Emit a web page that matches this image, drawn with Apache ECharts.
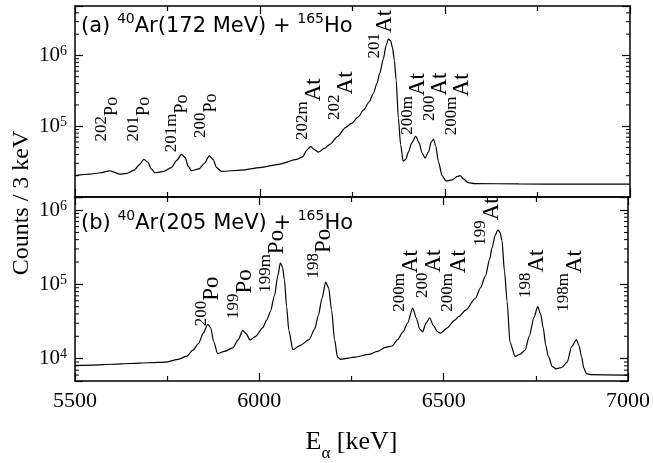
<!DOCTYPE html>
<html>
<head>
<meta charset="utf-8">
<script src="https://cdn.jsdelivr.net/npm/echarts@6/dist/echarts.min.js"></script>
<style>
  html, body { margin: 0; padding: 0; background: #fff; }
  #chart { width: 653px; height: 463px; }
</style>
</head>
<body>
<div id="chart"></div>
<script>
// spectrum (a): 40Ar(172 MeV) + 165Ho
const energyA = [5500, 5540, 5570, 5585, 5595, 5605, 5620, 5640, 5660, 5675, 5686, 5697, 5706, 5716,
  5740, 5760, 5775, 5788, 5798, 5806, 5815, 5835, 5850, 5863, 5873, 5883, 5896, 5950, 6000, 6050,
  6100, 6115, 6127, 6137, 6146, 6158, 6175, 6190, 6210, 6230, 6248, 6265, 6280, 6295, 6306, 6316,
  6324, 6333, 6341, 6347, 6353, 6358, 6363, 6368, 6374, 6380, 6387, 6394, 6401, 6410, 6421, 6430,
  6438, 6446, 6455, 6463, 6469, 6475, 6482, 6492, 6503, 6520, 6533, 6541, 6550, 6562, 6580, 6700,
  6850, 7000]
const countsA = [2.0e4, 2.1e4, 2.2e4, 2.3e4, 2.35e4, 2.25e4, 2.1e4, 2.15e4, 2.4e4, 2.9e4, 3.4e4, 3.1e4, 2.5e4, 2.2e4,
  2.3e4, 2.6e4, 3.3e4, 4.0e4, 3.6e4, 2.7e4, 2.35e4, 2.5e4, 3.0e4, 3.8e4, 3.4e4, 2.6e4, 2.3e4, 2.4e4, 2.6e4, 2.9e4,
  3.4e4, 3.7e4, 4.6e4, 5.2e4, 4.7e4, 4.3e4, 4.9e4, 5.6e4, 7.2e4, 9.5e4, 1.1e5, 1.35e5, 1.7e5, 2.2e5, 2.9e5, 4.0e5,
  5.7e5, 8.8e5, 1.4e6, 1.7e6, 1.62e6, 1.3e6, 8.5e5, 4.5e5, 1.3e5, 5.5e4, 3.2e4, 3.4e4, 4.3e4, 5.8e4, 7.2e4, 5.8e4,
  4.2e4, 3.55e4, 4.3e4, 6.0e4, 6.6e4, 5.2e4, 3.2e4, 2.0e4, 1.68e4, 1.75e4, 1.95e4, 2.0e4, 1.8e4, 1.6e4, 1.55e4, 1.53e4,
  1.52e4, 1.52e4]

// spectrum (b): 40Ar(205 MeV) + 165Ho
const energyB = [5500, 5550, 5600, 5650, 5700, 5748, 5780, 5802, 5820, 5835, 5848, 5860, 5868, 5876, 5887,
  5905, 5928, 5943, 5955, 5963, 5975, 5990, 6009, 6020, 6030, 6041, 6050, 6057, 6063, 6068, 6074,
  6080, 6091, 6110, 6135, 6150, 6160, 6170, 6180, 6188, 6196, 6204, 6212, 6221, 6260, 6297, 6320,
  6342, 6360, 6375, 6390, 6402, 6416, 6426, 6435, 6443, 6452, 6462, 6472, 6483, 6491, 6510, 6530,
  6541, 6560, 6586, 6600, 6613, 6625, 6631, 6640, 6647, 6653, 6658, 6665, 6672, 6680, 6694, 6708,
  6721, 6732, 6745, 6755, 6763, 6770, 6777, 6784, 6795, 6805, 6820, 6835, 6847, 6860, 6867, 6874,
  6880, 6887, 6900, 7000]
const countsB = [8.1e3, 8.2e3, 8.4e3, 8.6e3, 8.8e3, 9.0e3, 9.8e3, 1.07e4, 1.3e4, 1.6e4, 2.2e4, 2.9e4, 2.6e4, 1.7e4, 1.17e4,
  1.25e4, 1.4e4, 1.8e4, 2.4e4, 2.2e4, 1.78e4, 2.0e4, 2.6e4, 3.3e4, 4.3e4, 7.0e4, 1.3e5, 1.95e5, 1.7e5, 1.15e5, 5.0e4,
  2.4e4, 1.32e4, 1.5e4, 1.8e4, 2.5e4, 3.8e4, 6.5e4, 1.07e5, 9.0e4, 4.5e4, 1.8e4, 1.05e4, 9.8e3, 1.05e4, 1.14e4, 1.25e4,
  1.42e4, 1.48e4, 1.8e4, 2.3e4, 3.0e4, 4.8e4, 3.5e4, 2.5e4, 2.3e4, 3.0e4, 3.55e4, 2.8e4, 2.3e4, 2.2e4, 2.6e4, 3.3e4,
  3.7e4, 4.5e4, 6.5e4, 9.0e4, 1.29e5, 2.2e5, 3.1e5, 4.6e5, 5.4e5, 5.0e5, 3.9e5, 1.5e5, 5.9e4, 1.65e4, 1.07e4, 1.15e4,
  1.3e4, 2.0e4, 3.6e4, 5.0e4, 4.0e4, 2.6e4, 1.5e4, 1.07e4, 7.8e3, 7.3e3, 7.6e3, 9.0e3, 1.45e4, 1.8e4, 1.5e4, 1.07e4,
  7.5e3, 6.3e3, 6.1e3, 6.0e3]

// peak labels (energy = where the element symbol sits)
const peakMassA = ['202', '201', '201m', '200', '202m', '202', '201', '200m', '200', '200m']
const peakElemA = ['Po', 'Po', 'Po', 'Po', 'At', 'At', 'At', 'At', 'At', 'At']
const peakEnergyA = [5601, 5687, 5791, 5868, 6145, 6231, 6338, 6428, 6487, 6547]
const peakLabelCountsA = [1.26e5, 1.26e5, 1.1e5, 1.41e5, 1.74e5, 2.7e5, 2.0e6, 2.07e5, 2.6e5, 2.04e5]

const peakMassB = ['200', '199', '199m', '198', '200m', '200', '200m', '199', '198', '198m']
const peakElemB = ['Po', 'Po', 'Po', 'Po', 'At', 'At', 'At', 'At', 'At', 'At']
const peakEnergyB = [5872, 5960, 6047, 6176, 6410, 6473, 6541, 6631, 6753, 6856]
const peakLabelCountsB = [5.9e4, 7.4e4, 2.04e5, 2.6e5, 1.11e5, 1.39e5, 1.11e5, 7.0e5, 1.39e5, 1.11e5]

// axis ranges
const xMin = 5500
const xMax = 7000
const xTicks = ['5500', '6000', '6500', '7000']
const yRangeA = [1e4, 5e6]
const yRangeB = [5e3, 1.5e6]

const SERIF = "'Liberation Serif', 'DejaVu Serif', serif"
const SANS = "'DejaVu Sans', 'Liberation Sans', sans-serif"

const chart = echarts.init(document.getElementById('chart'), null, { renderer: 'canvas' })

// log minor ticks (2..9 x 10^n) drawn inside both y edges
const minorTickValues = (range) => {
  const out = []
  for (let n = Math.floor(Math.log10(range[0])); n <= Math.ceil(Math.log10(range[1])); n++) {
    for (let k = 2; k <= 9; k++) {
      const v = k * Math.pow(10, n)
      if (v > range[0] && v < range[1]) out.push([xMin, v])
    }
  }
  return out
}

const minorTickSeries = (idx, range) => ({
  type: 'custom',
  xAxisIndex: idx * 2,
  yAxisIndex: idx * 2,
  silent: true,
  animation: false,
  z: 5,
  data: minorTickValues(range),
  renderItem: (params, api) => {
    const v = api.value(1)
    const l = api.coord([xMin, v])
    const r = api.coord([xMax, v])
    const style = { stroke: '#000', lineWidth: 1 }
    return {
      type: 'group',
      children: [
        { type: 'line', shape: { x1: l[0], y1: l[1], x2: l[0] + 4, y2: l[1] }, style },
        { type: 'line', shape: { x1: r[0] - 4, y1: r[1], x2: r[0], y2: r[1] }, style }
      ]
    }
  }
})

const xAxisCfg = (gridIndex, position, showLabels) => ({
  type: 'value',
  gridIndex,
  position,
  min: xMin,
  max: xMax,
  interval: 500,
  axisLine: { show: true, onZero: false, lineStyle: { color: '#000', width: 1.5 } },
  axisTick: { show: true, inside: true, length: 8, lineStyle: { color: '#000', width: 1.2 } },
  minorTick: { show: true, splitNumber: 2, length: 5, lineStyle: { color: '#000', width: 1.2 } },
  splitLine: { show: false },
  axisLabel: {
    show: showLabels,
    margin: 9,
    color: '#000',
    fontFamily: SERIF,
    fontSize: 22,
    formatter: (v) => (xTicks.includes(String(v)) ? String(v) : '')
  }
})

const yAxisCfg = (gridIndex, range, position, showLabels, hideExp) => ({
  type: 'log',
  logBase: 10,
  gridIndex,
  position,
  min: range[0],
  max: range[1],
  axisLine: { show: true, lineStyle: { color: '#000', width: 1.5 } },
  axisTick: { show: true, inside: true, length: 8, lineStyle: { color: '#000', width: 1.2 } },
  splitLine: { show: false },
  axisLabel: {
    show: showLabels,
    margin: 8,
    formatter: (v) => {
      const p = Math.log10(v)
      const e = Math.round(p)
      if (Math.abs(p - e) > 1e-6 || e === hideExp) return ''
      return '{b|10}{s|' + e + '}'
    },
    rich: {
      b: { fontFamily: SERIF, fontSize: 21, color: '#000', lineHeight: 22 },
      s: { fontFamily: SERIF, fontSize: 14, color: '#000', verticalAlign: 'top', lineHeight: 14 }
    }
  }
})

// mass number raised as a superscript: its box sits at the top of a tall line
const labelRich = {
  m: { fontFamily: SERIF, fontSize: 17, color: '#000', verticalAlign: 'top', lineHeight: 17 },
  e: { fontFamily: SERIF, fontSize: 23, color: '#000', verticalAlign: 'middle', lineHeight: 39 },
  es: { fontFamily: SERIF, fontSize: 18, color: '#000', verticalAlign: 'middle', lineHeight: 39 }
}

const peakMarks = (mass, elem, energy, counts, smallPo) => ({
  symbol: 'circle',
  symbolSize: 1,
  itemStyle: { color: 'rgba(0,0,0,0)' },
  silent: true,
  animation: false,
  label: {
    show: true,
    position: 'inside',
    rotate: 90,
    rich: labelRich
  },
  data: energy.map((e, i) => {
    const elStyle = smallPo && elem[i] === 'Po' ? 'es' : 'e'
    const text = '{m|' + mass[i] + '}{' + elStyle + '|' + elem[i] + '}'
    return { coord: [e, counts[i]], label: { formatter: () => text } }
  })
})

const titleRich = {
  n: { fontFamily: SANS, fontSize: 21, fontWeight: 'normal', color: '#000', lineHeight: 25, verticalAlign: 'bottom' },
  s: { fontFamily: SANS, fontSize: 14, fontWeight: 'normal', color: '#000', lineHeight: 14, verticalAlign: 'top' }
}

const option = {
  backgroundColor: '#fff',
  animation: false,
  title: [
    { left: 81, top: 12, padding: 0, text: '{n|(a) }{s|40}{n|Ar(172 MeV) + }{s|165}{n|Ho}', textStyle: { fontWeight: 'normal', rich: titleRich } },
    { left: 81, top: 209, padding: 0, text: '{n|(b) }{s|40}{n|Ar(205 MeV) + }{s|165}{n|Ho}', textStyle: { fontWeight: 'normal', rich: titleRich } }
  ],
  grid: [
    { left: 75, top: 6, width: 555, height: 191 },
    { left: 75, top: 197, width: 555, height: 192 }
  ],
  xAxis: [
    xAxisCfg(0, 'bottom', false),
    xAxisCfg(0, 'top', false),
    Object.assign(xAxisCfg(1, 'bottom', true), {
      name: '{e|E}{s|α}{e| [keV]}',
      nameLocation: 'middle',
      nameGap: 47,
      nameTextStyle: {
        rich: {
          e: { fontFamily: SERIF, fontSize: 26, color: '#000', lineHeight: 28 },
          s: { fontFamily: SERIF, fontSize: 17, color: '#000', verticalAlign: 'bottom', lineHeight: 17, padding: [0, 0, -6, 0] }
        }
      }
    }),
    xAxisCfg(1, 'top', false)
  ],
  yAxis: [
    yAxisCfg(0, yRangeA, 'left', true, 4),
    yAxisCfg(0, yRangeA, 'right', false),
    yAxisCfg(1, yRangeB, 'left', true),
    yAxisCfg(1, yRangeB, 'right', false)
  ],
  graphic: [
    {
      type: 'text',
      x: 22,
      y: 203,
      rotation: Math.PI / 2,
      style: {
        text: 'Counts / 3 keV',
        font: '24px ' + SERIF,
        fill: '#000',
        textAlign: 'center',
        textVerticalAlign: 'middle'
      }
    }
  ],
  series: [
    {
      type: 'line',
      xAxisIndex: 0,
      yAxisIndex: 0,
      data: energyA.map((e, i) => [e, countsA[i]]),
      showSymbol: false,
      smooth: 0.25,
      smoothMonotone: 'x',
      lineStyle: { color: '#000', width: 1.2 },
      markPoint: peakMarks(peakMassA, peakElemA, peakEnergyA, peakLabelCountsA, true)
    },
    {
      type: 'line',
      xAxisIndex: 2,
      yAxisIndex: 2,
      data: energyB.map((e, i) => [e, countsB[i]]),
      showSymbol: false,
      smooth: 0.25,
      smoothMonotone: 'x',
      lineStyle: { color: '#000', width: 1.2 },
      markPoint: peakMarks(peakMassB, peakElemB, peakEnergyB, peakLabelCountsB, false)
    },
    minorTickSeries(0, yRangeA),
    minorTickSeries(1, yRangeB)
  ]
}

chart.setOption(option)
</script>
</body>
</html>
